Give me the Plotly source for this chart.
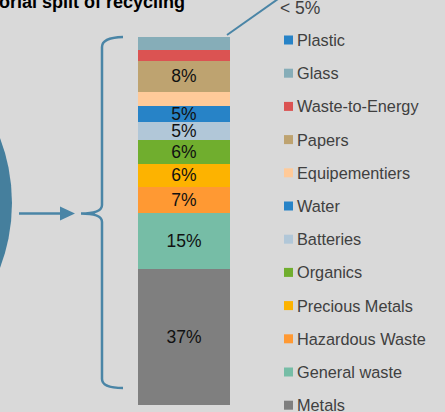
import plotly.graph_objects as go

W, H = 445, 412

# ---- data ----
categories = ["Plastic", "Glass", "Waste-to-Energy", "Papers", "Equipementiers", "Water",
              "Batteries", "Organics", "Precious Metals", "Hazardous Waste", "General waste", "Metals"]
shares = [0.0, 3.6, 3.0, 8.2, 3.8, 4.6, 4.9, 6.5, 6.0, 7.3, 15.1, 37.0]
bar_labels = ["", "", "", "8%", "", "5%", "5%", "6%", "6%", "7%", "15%", "37%"]
colors = ["#2783C7", "#86ADB8", "#DB5352", "#BEA370", "#FFCA99", "#2783C7",
          "#B1C7D8", "#70AE2E", "#FDB300", "#FF9933", "#76BDA6", "#7F7F7F"]
group = ["Recycling"]

LINE = "#4A85A6"
CIRCLE = "#457F9D"
FONT = "Liberation Sans, Arial, sans-serif"


def px(x, y):
    return x / W, 1 - y / H


fig = go.Figure()
# stack bottom (Metals) first
for name, v, lab, col in reversed(list(zip(categories, shares, bar_labels, colors))):
    fig.add_trace(go.Bar(
        x=group, y=[v], name=name, marker=dict(color=col, line=dict(width=0)),
        text=[lab], textposition="inside", insidetextanchor="middle", textangle=0,
        textfont=dict(family=FONT, size=17.5, color="#111111"),
        width=1, showlegend=False, hoverinfo="name+y",
    ))

bx0, bx1 = 138 / W, 230 / W
fig.update_layout(
    width=W, height=H, margin=dict(l=0, r=0, t=0, b=0),
    paper_bgcolor="#D9D9D9", plot_bgcolor="#D9D9D9",
    barmode="stack", bargap=0,
    uniformtext=dict(minsize=17.5, mode="show"),
    xaxis=dict(domain=[bx0, bx1], range=[-0.5, 0.5], visible=False, fixedrange=True),
    yaxis=dict(domain=[1 - 405 / H, 1 - 36.7 / H], range=[0, 100], visible=False, fixedrange=True),
    showlegend=False,
)

shapes = []
annotations = []

# manual legend
for i, (name, col) in enumerate(zip(categories, colors)):
    cy = 40 + i * 33.2
    x0, y0 = px(284, cy - 4.5)
    x1, y1 = px(293, cy + 4.5)
    shapes.append(dict(type="rect", xref="paper", yref="paper", x0=x0, x1=x1, y0=y1, y1=y0,
                       fillcolor=col, line=dict(width=0)))
    tx, ty = px(294.8, cy)
    annotations.append(dict(text=name, xref="paper", yref="paper", x=tx, y=ty, xanchor="left",
                            yanchor="middle", showarrow=False,
                            font=dict(family=FONT, size=16.3, color="#404040")))

# big circle at left edge
cx0, cy0 = px(-170 - 182, 203 - 182)
cx1, cy1 = px(-170 + 182, 203 + 182)
shapes.append(dict(type="circle", xref="paper", yref="paper", x0=cx0, x1=cx1, y0=cy1, y1=cy0,
                   fillcolor=CIRCLE, line=dict(width=0), layer="below"))

# arrow
ax0, ay = px(19, 213.5)
ax1, _ = px(62, 213.5)
shapes.append(dict(type="line", xref="paper", yref="paper", x0=ax0, x1=ax1, y0=ay, y1=ay,
                   line=dict(color=LINE, width=2.5)))


def path(points_cmds):
    out = []
    for cmd, pts in points_cmds:
        coords = " ".join(f"{px(x, y)[0]:.5f},{px(x, y)[1]:.5f}" for x, y in pts)
        out.append(f"{cmd} {coords}")
    return " ".join(out)


tri = path([("M", [(60, 206.5)]), ("L", [(75, 213.5)]), ("L", [(60, 220.5)]), ("Z", [])])
shapes.append(dict(type="path", xref="paper", yref="paper", path=tri, fillcolor=LINE,
                   line=dict(width=0)))

# curly brace
brace = path([
    ("M", [(123, 37)]), ("Q", [(102, 37.5), (102, 47)]), ("L", [(102, 205)]),
    ("Q", [(102, 213.5), (81, 213.5)]),
    ("Q", [(102, 213.5), (102, 222)]), ("L", [(102, 379)]),
    ("Q", [(102, 388), (123, 388)]),
])
shapes.append(dict(type="path", xref="paper", yref="paper", path=brace,
                   line=dict(color=LINE, width=2.5)))

# callout line for small shares
lx0, ly0 = px(227, 35)
lx1, ly1 = px(278, -1)
shapes.append(dict(type="line", xref="paper", yref="paper", x0=lx0, x1=lx1, y0=ly0, y1=ly1,
                   line=dict(color=LINE, width=2)))

tx, ty = px(277.5, 7.5)
annotations.append(dict(text="< 5%", xref="paper", yref="paper", x=tx, y=ty, xanchor="left",
                        yanchor="middle", showarrow=False,
                        font=dict(family=FONT, size=17.5, color="#404040")))

# title (partially cut off at the top-left)
tx, ty = px(187, 2)
annotations.append(dict(text="<b>Sectorial split of recycling</b>", xref="paper", yref="paper",
                        x=tx, y=ty, xanchor="right", yanchor="middle", showarrow=False,
                        font=dict(family=FONT, size=18, color="#000000")))

fig.update_layout(shapes=shapes, annotations=annotations)
fig.write_html("out.html", config={"displayModeBar": False},
               post_script="document.body.style.margin='0';document.body.style.overflow='hidden';")
